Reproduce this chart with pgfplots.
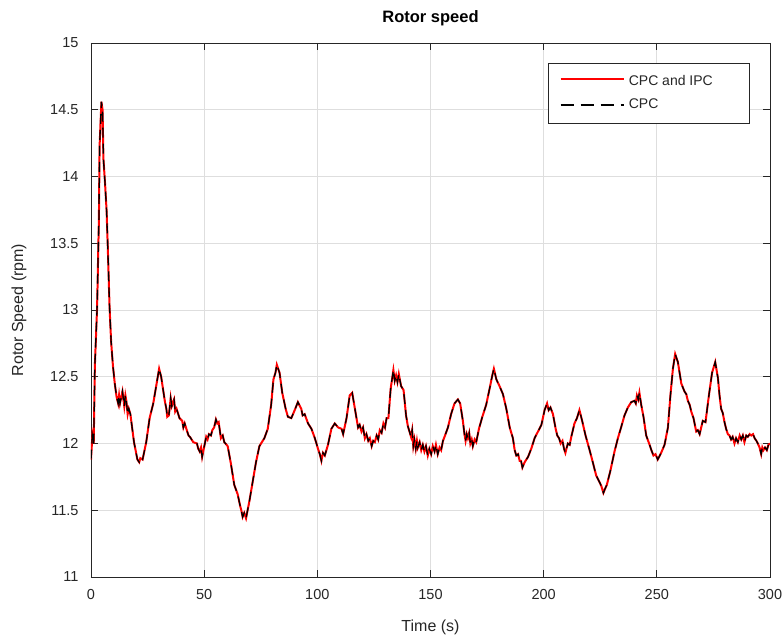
\documentclass[border=0pt]{standalone}
\usepackage{fontspec}
\setmainfont{Liberation Sans}
\usepackage{pgfplots}
\usepackage{pgfplotstable}
\pgfplotsset{compat=1.18}
\definecolor{axisgray}{HTML}{262626}
\definecolor{gridgray}{HTML}{DEDEDE}
\pgfplotstableread{
t v
0 11.88
0.6 12.06
1.2 12.00
1.7 12.58
2.7 13.02
3.5 13.69
3.8 14.23
4.6 14.56
5.1 14.50
5.5 14.13
6.2 13.95
6.9 13.74
7.4 13.48
8.2 13.02
8.9 12.76
9.7 12.58
10.5 12.45
11.3 12.35
12.0 12.30
12.4 12.36
12.8 12.30
13.9 12.39
14.7 12.28
15.2 12.36
15.6 12.32
16.2 12.22
16.7 12.26
17.4 12.22
19.0 12.01
20.5 11.88
21.3 11.86
21.8 11.89
22.8 11.88
24.4 12.01
25.9 12.19
27.5 12.30
29.0 12.45
30.1 12.56
31.0 12.50
32.6 12.32
33.3 12.26
33.7 12.20
34.4 12.21
35.2 12.34
35.7 12.28
36.7 12.33
37.2 12.24
37.8 12.26
39.1 12.19
40.3 12.17
40.8 12.12
41.4 12.15
42.5 12.09
43.1 12.06
43.7 12.05
45.2 12.01
46.8 12.00
47.4 11.96
48.0 11.94
48.6 11.97
49.1 11.90
50.3 12.00
50.9 12.05
51.5 12.03
52.1 12.07
53.0 12.06
53.6 12.10
54.4 12.12
55.2 12.18
55.8 12.15
56.4 12.16
57.4 12.04
58.2 12.06
58.9 12.01
60.4 11.98
61.8 11.85
63.3 11.69
64.8 11.62
65.8 11.54
66.4 11.50
67.0 11.45
67.7 11.48
68.5 11.44
70.0 11.57
71.4 11.71
72.9 11.86
74.4 11.98
76.6 12.04
78.1 12.11
79.6 12.29
80.6 12.48
81.5 12.53
82.1 12.59
83.3 12.53
84.5 12.38
86.0 12.26
87.0 12.20
88.5 12.19
90.0 12.25
91.4 12.31
92.9 12.26
93.5 12.21
94.4 12.22
95.9 12.15
97.4 12.11
98.9 12.04
99.6 12.00
100.3 11.96
101.1 11.92
101.8 11.87
102.5 11.93
103.3 11.91
104.7 11.99
106.2 12.11
107.7 12.15
109.2 12.12
110.7 12.11
111.4 12.07
112.9 12.19
114.3 12.36
115.4 12.38
116.6 12.26
118.0 12.12
118.7 12.14
119.5 12.09
120.2 12.12
121.0 12.04
121.7 12.07
122.5 12.02
123.2 12.04
124.0 11.98
124.7 12.02
125.4 12.01
126.2 12.06
126.9 12.03
127.6 12.10
128.4 12.08
129.2 12.15
129.9 12.12
130.6 12.19
131.4 12.19
132.4 12.41
133.6 12.55
134.2 12.47
134.8 12.51
135.4 12.46
136.0 12.52
137.0 12.43
138.1 12.40
139.2 12.21
140.0 12.13
140.7 12.09
141.4 12.05
141.9 12.10
142.4 11.98
142.9 12.03
143.5 11.96
144.0 12.02
144.4 11.97
145.2 12.01
145.9 11.95
146.6 11.99
147.3 11.94
148.0 11.98
148.8 11.91
149.5 11.96
150.3 11.92
151.0 11.98
151.8 11.94
152.4 11.99
153.2 11.92
154.0 11.97
154.7 11.95
155.5 12.02
156.2 12.05
157.7 12.12
159.1 12.22
160.6 12.30
162.1 12.33
163.1 12.30
164.3 12.17
165.0 12.07
165.5 12.02
166.0 12.07
166.5 12.04
167.1 12.08
167.6 12.00
168.2 12.03
168.7 11.98
169.5 12.03
170.2 12.01
171.4 12.11
172.9 12.20
174.6 12.29
176.1 12.41
177.3 12.51
178.0 12.56
179.1 12.48
180.5 12.43
182.0 12.37
183.5 12.26
185.0 12.12
186.4 12.04
187.2 11.95
187.9 11.91
188.7 11.92
189.4 11.87
190.0 11.87
190.6 11.82
191.6 11.86
193.1 11.90
194.5 11.96
196.0 12.04
197.5 12.09
199.0 12.14
200.4 12.25
201.5 12.30
202.2 12.25
203.0 12.27
204.1 12.22
205.3 12.11
206.0 12.06
206.8 12.04
207.5 12.00
208.3 12.02
209.0 11.96
209.6 11.93
210.2 11.97
210.7 12.00
211.5 11.99
212.2 12.05
213.6 12.15
214.7 12.19
215.8 12.25
217.0 12.17
218.5 12.06
220.3 11.95
221.7 11.86
223.2 11.76
224.7 11.71
225.5 11.68
226.4 11.63
227.1 11.66
227.9 11.69
229.4 11.79
231.3 11.94
232.8 12.04
234.2 12.12
235.7 12.21
237.2 12.27
238.7 12.31
240.1 12.32
240.7 12.30
241.2 12.36
241.8 12.33
242.3 12.38
243.1 12.29
244.1 12.20
245.3 12.06
246.8 11.99
247.6 11.95
248.5 11.91
249.4 11.92
250.4 11.88
251.9 11.93
253.4 11.99
254.9 12.12
256.0 12.36
257.1 12.56
258.1 12.67
259.3 12.61
260.8 12.45
262.2 12.39
263.0 12.37
263.7 12.32
264.5 12.29
265.2 12.24
266.2 12.19
267.4 12.09
268.1 12.10
268.9 12.07
270.3 12.17
271.5 12.16
273.0 12.36
274.4 12.53
275.8 12.61
277.0 12.49
277.7 12.36
278.4 12.26
279.1 12.23
279.9 12.16
280.6 12.11
281.4 12.07
282.1 12.06
282.8 12.03
283.5 12.05
284.3 12.00
285.0 12.04
285.8 12.01
286.6 12.06
287.3 12.03
288.0 12.06
288.7 12.01
289.5 12.06
290.2 12.05
291.0 12.07
291.7 12.06
292.5 12.07
293.2 12.04
294.0 12.02
294.6 12.00
295.4 11.97
296.1 11.92
296.6 11.97
297.1 11.95
297.8 11.97
298.6 11.95
299.3 11.99
300 12.00
}\rotordata
\begin{document}
\begin{tikzpicture}
\useasboundingbox (-91pt,-62pt) rectangle (692pt,577pt);
\begin{axis}[
  at={(0pt,0pt)}, anchor=south west,
  scale only axis, width=679pt, height=534pt,
  xmin=0, xmax=300, ymin=11, ymax=15,
  xtick={0,50,...,300}, ytick={11,11.5,...,15},
  tick pos=both, tick align=inside, major tick length=7pt,
  grid=major, grid style={color=gridgray, line width=0.8pt},
  axis line style={color=axisgray, line width=0.9pt},
  tick style={color=axisgray, line width=0.9pt},
  /pgf/number format/assume math mode=true,
  tick label style={font=\fontsize{14.5}{16}\selectfont, color=axisgray},
  xticklabel style={yshift=-9pt},
  yticklabel style={xshift=-9pt},
  xlabel={Time (s)}, ylabel={Rotor Speed (rpm)},
  label style={font=\fontsize{16}{18}\selectfont, color=axisgray},
  xlabel style={at={(axis description cs:0.5,0)}, anchor=center, yshift=-50pt},
  ylabel style={at={(axis description cs:-0.106,0.5)}, anchor=center},
  title={Rotor speed},
  title style={font=\fontsize{16.5}{18}\selectfont\bfseries, at={(axis description cs:0.5,1)}, anchor=center, yshift=19pt},
  legend cell align=left,
  legend style={name=mylegend, at={(axis description cs:1,1)}, anchor=north east, xshift=-21pt, yshift=-20pt,
    draw=none, fill=white,
    font=\fontsize{14}{16}\selectfont,
    inner xsep=12pt, inner ysep=9pt, row sep=4pt, column sep=0pt,
    nodes={inner sep=3pt, text height=10pt, text depth=3pt}},
  legend image code/.code={},
]
\addplot[draw=red, line width=2pt] table[x=t, y=v] {\rotordata};
\addlegendentry{\hspace{65pt}\makebox[105pt][l]{\color{axisgray}CPC and IPC}}
\addplot[draw=black, line width=1.3pt, dash pattern=on 10pt off 6pt] table[x=t, y=v] {\rotordata};
\addlegendentry{\hspace{65pt}\makebox[105pt][l]{\color{axisgray}CPC}}
\end{axis}
\draw[axisgray, line width=0.7pt] (mylegend.south west) rectangle (mylegend.north east);
\draw[red, line width=1.4pt] ([xshift=12pt, yshift=-16pt]mylegend.north west) -- ++(63pt,0pt);
\draw[black, line width=1.4pt, dash pattern=on 13pt off 7pt] ([xshift=12pt, yshift=-42pt]mylegend.north west) -- ++(63pt,0pt);
\end{tikzpicture}
\end{document}
